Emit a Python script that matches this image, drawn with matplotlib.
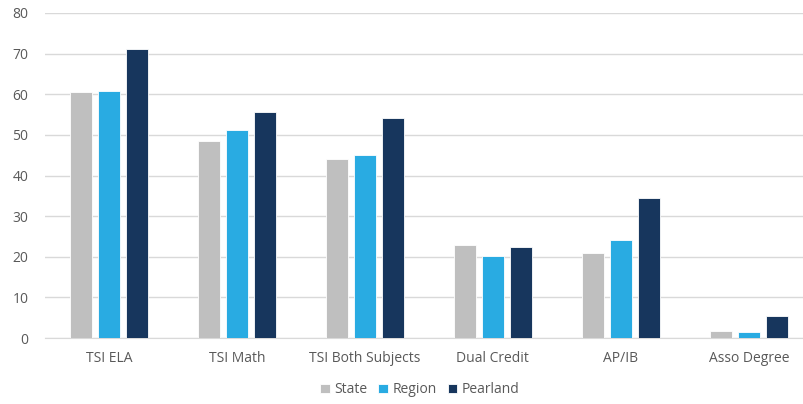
import matplotlib.pyplot as plt
import numpy as np

categories = ["TSI ELA", "TSI Math", "TSI Both Subjects", "Dual Credit", "AP/IB", "Asso Degree"]
state = [60.6, 48.5, 44.1, 22.9, 20.9, 1.8]
region = [60.8, 51.2, 45.1, 20.2, 24.1, 1.5]
pearland = [71.2, 55.7, 54.2, 22.5, 34.5, 5.4]
series_names = ["State", "Region", "Pearland"]
colors = ["#bfbfbf", "#29abe2", "#17365d"]

plt.rcParams['font.family'] = ['Open Sans', 'DejaVu Sans']

fig = plt.figure(figsize=(8.04, 4.04), dpi=100)
ax = fig.add_axes([0.056, 0.163, 0.955, 0.805])

x = np.arange(len(categories))
step = 0.22
width = 0.175
for i, (vals, name, c) in enumerate(zip([state, region, pearland], series_names, colors)):
    ax.bar(x + (i - 1) * step, vals, width, color=c, label=name,
           edgecolor='white', linewidth=0.6, zorder=3)

ax.set_xlim(-0.5, len(categories) - 0.5)
ax.set_ylim(0, 80)
ax.set_yticks(range(0, 81, 10))
ax.set_xticks(x)
ax.set_xticklabels(categories)
ax.tick_params(axis='both', length=0, labelsize=10, colors='#595959')
ax.tick_params(axis='x', pad=9)
ax.tick_params(axis='y', pad=12)
ax.grid(axis='y', color='#d9d9d9', linewidth=1, zorder=0)
for s in ['top', 'right', 'left']:
    ax.spines[s].set_visible(False)
ax.spines['bottom'].set_color('#d9d9d9')

fig.legend(loc='center', bbox_to_anchor=(0.522, 0.035), ncol=3, frameon=False,
           fontsize=10, labelcolor='#595959', handlelength=0.7, handleheight=0.7,
           handletextpad=0.3, columnspacing=0.8)

plt.savefig("out.png", dpi=100)
